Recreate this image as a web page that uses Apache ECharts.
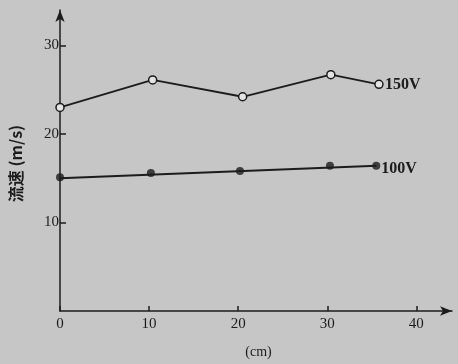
<!DOCTYPE html>
<html><head><meta charset="utf-8">
<script src="https://cdn.jsdelivr.net/npm/echarts@6/dist/echarts.min.js"></script>
<style>html,body{margin:0;padding:0;background:#c6c6c6;}#c{width:458px;height:364px;}</style>
</head><body><div id="c"></div>
<script>
var xTicks = [0, 10, 20, 30, 40];
var yTicks = [10, 20, 30];
var s150 = [[0, 23.0], [10.4, 26.1], [20.5, 24.2], [30.4, 26.7], [35.8, 25.6]];
var s100pts = [[0, 15.1], [10.2, 15.6], [20.2, 15.8], [30.3, 16.4], [35.5, 16.4]];
var s100fit = [[0, 15.0], [35.5, 16.4]];
var xName = '(cm)';
var yName = '流速 (m/s)';

var ink = '#1c1c1c';
var font = '"Liberation Serif", "DejaVu Serif", serif';
var chart = echarts.init(document.getElementById('c'));
chart.setOption({
  backgroundColor: '#c6c6c6',
  animation: false,
  grid: { left: 59, right: 6, top: 10, bottom: 52, containLabel: false },
  xAxis: {
    type: 'value', min: 0, max: 44,
    axisLine: { show: true, onZero: false, symbol: ['none', 'arrow'], symbolSize: [7, 12], lineStyle: { color: ink, width: 1.5 } },
    axisTick: { show: true, inside: true, length: 5, customValues: xTicks, lineStyle: { color: ink, width: 1.5 } },
    axisLabel: { customValues: xTicks, color: ink, fontFamily: font, fontSize: 15, margin: 6 },
    splitLine: { show: false },
    name: xName, nameLocation: 'middle', nameGap: 34,
    nameTextStyle: { color: ink, fontFamily: font, fontSize: 14, padding: [0, 0, 0, 5] }
  },
  yAxis: {
    type: 'value', min: 0, max: 34,
    axisLine: { show: true, onZero: false, symbol: ['none', 'arrow'], symbolSize: [7, 12], lineStyle: { color: ink, width: 1.5 } },
    axisTick: { show: true, inside: true, length: 6, customValues: yTicks, lineStyle: { color: ink, width: 1.5 } },
    axisLabel: { customValues: yTicks, color: ink, fontFamily: font, fontSize: 15, margin: 1 },
    splitLine: { show: false },
    name: yName, nameLocation: 'middle', nameGap: 36, nameRotate: 90,
    nameTextStyle: { color: ink, fontFamily: '"Noto Sans CJK SC", ' + font, fontSize: 16, fontWeight: 'bold', padding: [0, 6, 0, 0] }
  },
  series: [
    {
      type: 'line', data: s150, symbol: 'circle', symbolSize: 8,
      itemStyle: { color: '#e4e4e4', borderColor: ink, borderWidth: 1.5 },
      lineStyle: { color: ink, width: 1.8 },
      endLabel: { show: true, formatter: '150V', color: ink, fontFamily: font, fontSize: 16, fontWeight: 'bold', distance: 6 }
    },
    {
      type: 'line', data: s100fit, symbol: 'none',
      lineStyle: { color: ink, width: 2 },
      endLabel: { show: true, formatter: '100V', color: ink, fontFamily: font, fontSize: 16, fontWeight: 'bold', distance: 5, offset: [0, 3] }
    },
    {
      type: 'scatter', data: s100pts, symbol: 'circle', symbolSize: 8,
      itemStyle: { color: ink }
    }
  ]
});
</script></body></html>
